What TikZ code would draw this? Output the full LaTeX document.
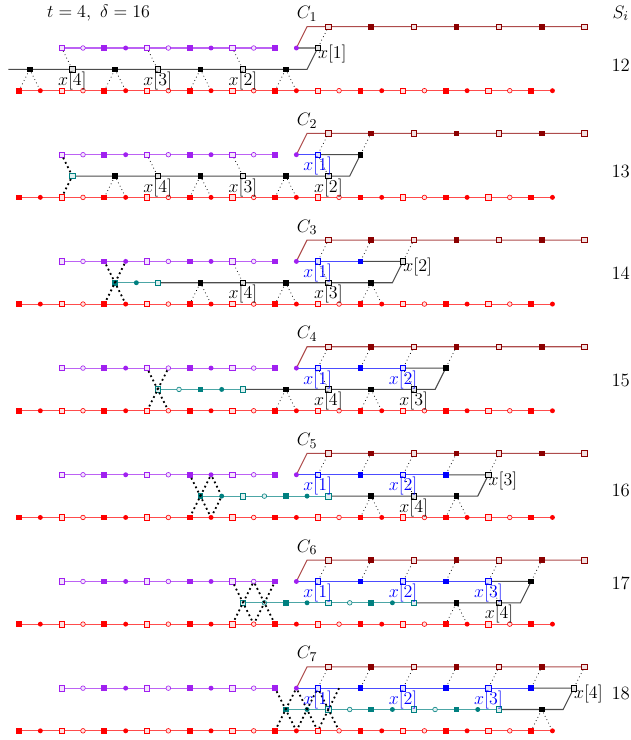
\documentclass[tikz,border=0pt]{standalone}
\usetikzlibrary{positioning}
\definecolor{violetrow}{RGB}{160,32,240}
\definecolor{maroonrow}{RGB}{139,0,0}
\definecolor{tealrow}{RGB}{0,128,128}

\tikzset{
  fsq/.style={rectangle, fill=#1, inner sep=0pt, minimum size=3.8pt},
  osq/.style={rectangle, draw=#1, fill=#1!12, line width=0.4pt, inner sep=0pt, minimum size=3.6pt},
  fci/.style={circle, fill=#1, inner sep=0pt, minimum size=3.3pt},
  oci/.style={circle, draw=#1, fill=#1!12, line width=0.4pt, inner sep=0pt, minimum size=3.1pt},
  rowline/.style={line width=0.7pt, draw=#1, draw opacity=0.7},
  linkdots/.style={dotted, line width=0.5pt},
  swapdots/.style={dotted, line width=1.2pt},
  xlab/.style={below, inner sep=1.5pt},
  xend/.style={anchor=west, inner sep=0pt, yshift=-4pt},
}

% marker: colour, name, x, y -- kind taken from floor(x) mod 4
\newcommand{\mk}[4]{%
  \pgfmathtruncatemacro{\mkph}{mod(floor(#3),4)}%
  \ifcase\mkph\relax \node[fsq=#1] (#2) at (#3,#4) {};
  \or \node[fci=#1] (#2) at (#3,#4) {};
  \or \node[osq=#1] (#2) at (#3,#4) {};
  \or \node[oci=#1] (#2) at (#3,#4) {};
  \fi}

\begin{document}
\begin{tikzpicture}[x=0.5cm, y=0.5cm, every node/.append style={font=\fontsize{12.5}{15}\selectfont}]
\useasboundingbox (-0.89,-30.43) rectangle (28.68,4.25);

\node (title) at (3.73,3.65) {$t=4$,\hspace{6pt}$\delta=16$};
\node (shead) at (28.2,3.62) {$S_i$};

\foreach \j/\sy/\sval in {0/1.2/12, 1/1.2/13, 2/1.45/14, 3/1.44/15, 4/1.28/16, 5/1.92/17, 6/1.77/18} {
  \pgfmathtruncatemacro{\i}{\j+1}
  \pgfmathtruncatemacro{\uB}{12+2*\j}
  \pgfmathtruncatemacro{\uE}{14+2*\j}
  \pgfmathtruncatemacro{\nb}{6-\j}
  \pgfmathtruncatemacro{\kb}{4*\j}
  \begin{scope}[shift={(0,-5*\j)}]
    % rows
    \draw[rowline=red] (0,0) -- (25,0);
    \draw[rowline=violetrow] (2,2) -- (12,2);
    \draw[rowline=maroonrow] (13,2) -- (13.5,3) -- (26.5,3);
    \ifnum\j=0
      \draw[rowline=black] (13,2) -- (\uE,2) -- (\uE-0.5,1) -- (-0.5,1);
    \else
      \draw[rowline=blue] (13,2) -- (\uB,2);
      \draw[rowline=black] (\uB,2) -- (\uE,2) -- (\uE-0.5,1) -- (\kb-1.5,1);
      \draw[rowline=tealrow] (\kb-1.5,1) -- (2*\j+0.5,1);
    \fi
    % markers
    \foreach \k in {0,...,25} {\mk{red}{p\j-r0-\k}{\k}{0}}
    \foreach \k in {2,...,13} {\mk{violetrow}{p\j-r2-\k}{\k}{2}}
    \foreach \m in {0,...,6} {\pgfmathtruncatemacro{\k}{14+2*\m}\mk{maroonrow}{p\j-r3-\k}{\k+0.5}{3}}
    \ifnum\j>0
      \foreach \m in {1,...,\j} {\pgfmathtruncatemacro{\k}{12+2*\m}\mk{blue}{p\j-r2-\k}{\k}{2}}
      \pgfmathtruncatemacro{\nt}{2*\j-2}
      \foreach \m in {0,...,\nt} {\pgfmathtruncatemacro{\k}{2*\j+\m}\mk{tealrow}{p\j-r1-\k}{\k+0.5}{1}}
    \fi
    \mk{black}{p\j-r2-\uE}{\uE}{2}
    \foreach \m in {0,...,\nb} {\pgfmathtruncatemacro{\k}{\kb+2*\m}\mk{black}{p\j-r1-\k}{\k+0.5}{1}}
    % dotted links
    \foreach \m in {0,...,\j} {\pgfmathtruncatemacro{\k}{14+2*\m}
      \draw[linkdots] (p\j-r3-\k) -- (p\j-r2-\k);}
    \foreach \m in {0,...,\nb} {
      \pgfmathtruncatemacro{\k}{\kb+2*\m}
      \pgfmathtruncatemacro{\kk}{\k+1}
      \ifodd\m
        \draw[linkdots] (p\j-r2-\k) -- (p\j-r1-\k);
      \else
        \draw[linkdots] (p\j-r0-\k) -- (p\j-r1-\k) -- (p\j-r0-\kk);
      \fi}
    \node[above] (c\j) at (13.5,3) {$C_{\i}$};
    \node (s\j) at (28.2,\sy) {\sval};
  \end{scope}
}
\coordinate (p6-r2-15) at (15,-28);

% swaps
\draw[swapdots] (p1-r2-2) -- (p1-r1-2) -- (p1-r0-2);
\draw[swapdots] (p2-r2-4) -- (p2-r0-5);
\draw[swapdots] (p2-r2-5) -- (p2-r0-4);
\draw[swapdots] (p3-r2-6) -- (p3-r0-7);
\draw[swapdots] (p3-r2-7) -- (p3-r0-6);
\draw[swapdots] (p4-r2-8) -- (p4-r0-9);
\draw[swapdots] (p4-r2-9) -- (p4-r0-8);
\draw[swapdots] (p4-r2-9) -- (p4-r1-9) -- (p4-r0-9);
\foreach \a/\b in {10/11, 11/12} {
  \draw[swapdots] (p5-r2-\a) -- (p5-r0-\b);
  \draw[swapdots] (p5-r2-\b) -- (p5-r0-\a);}
\foreach \a/\b in {12/13, 13/14, 14/15} {
  \draw[swapdots] (p6-r2-\a) -- (p6-r0-\b);
  \draw[swapdots] (p6-r2-\b) -- (p6-r0-\a);}

% labels
\node[xend] (x01) at (p0-r2-14.center) {$x[1]$};
\node[xlab] (x02) at (p0-r1-10.center) {$x[2]$};
\node[xlab] (x03) at (p0-r1-6.center) {$x[3]$};
\node[xlab] (x04) at (p0-r1-2.center) {$x[4]$};

\node[xlab, text=blue] (x11) at (p1-r2-14.center) {$x[1]$};
\node[xlab] (x12) at (p1-r1-14.center) {$x[2]$};
\node[xlab] (x13) at (p1-r1-10.center) {$x[3]$};
\node[xlab] (x14) at (p1-r1-6.center) {$x[4]$};

\node[xlab, text=blue] (x21) at (p2-r2-14.center) {$x[1]$};
\node[xend] (x22) at (p2-r2-18.center) {$x[2]$};
\node[xlab] (x23) at (p2-r1-14.center) {$x[3]$};
\node[xlab] (x24) at (p2-r1-10.center) {$x[4]$};

\node[xlab, text=blue] (x31) at (p3-r2-14.center) {$x[1]$};
\node[xlab, text=blue] (x32) at (p3-r2-18.center) {$x[2]$};
\node[xlab] (x33) at (p3-r1-18.center) {$x[3]$};
\node[xlab] (x34) at (p3-r1-14.center) {$x[4]$};

\node[xlab, text=blue] (x41) at (p4-r2-14.center) {$x[1]$};
\node[xlab, text=blue] (x42) at (p4-r2-18.center) {$x[2]$};
\node[xend] (x43) at (p4-r2-22.center) {$x[3]$};
\node[xlab] (x44) at (p4-r1-18.center) {$x[4]$};

\node[xlab, text=blue] (x51) at (p5-r2-14.center) {$x[1]$};
\node[xlab, text=blue] (x52) at (p5-r2-18.center) {$x[2]$};
\node[xlab, text=blue] (x53) at (p5-r2-22.center) {$x[3]$};
\node[xlab] (x54) at (p5-r1-22.center) {$x[4]$};

\node[xlab, text=blue] (x61) at (p6-r2-14.center) {$x[1]$};
\node[xlab, text=blue] (x62) at (p6-r2-18.center) {$x[2]$};
\node[xlab, text=blue] (x63) at (p6-r2-22.center) {$x[3]$};
\node[xend] (x64) at (p6-r2-26.center) {$x[4]$};
\end{tikzpicture}
\end{document}
